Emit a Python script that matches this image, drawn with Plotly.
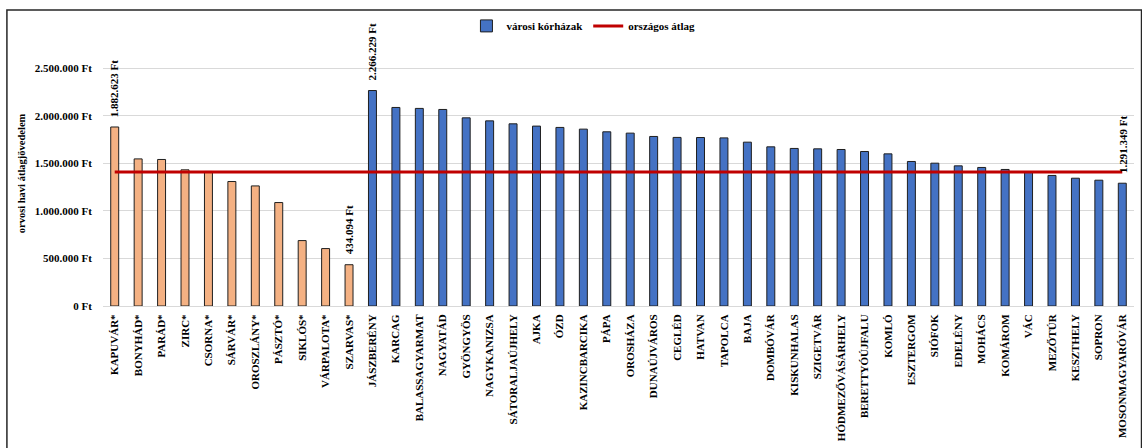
import plotly.graph_objects as go

# ---- data -------------------------------------------------------------
small_names = ["KAPUVÁR*", "BONYHÁD*", "PARÁD*", "ZIRC*", "CSORNA*", "SÁRVÁR*",
               "OROSZLÁNY*", "PÁSZTÓ*", "SIKLÓS*", "VÁRPALOTA*", "SZARVAS*"]
small_values = [1882623, 1547000, 1541000, 1432000, 1415000, 1309000,
                1263000, 1088000, 688000, 604000, 434094]

city_names = ["JÁSZBERÉNY", "KARCAG", "BALASSAGYARMAT", "NAGYATÁD", "GYÖNGYÖS",
              "NAGYKANIZSA", "SÁTORALJAÚJHELY", "AJKA", "ÓZD", "KAZINCBARCIKA",
              "PÁPA", "OROSHÁZA", "DUNAÚJVÁROS", "CEGLÉD", "HATVAN", "TAPOLCA",
              "BAJA", "DOMBÓVÁR", "KISKUNHALAS", "SZIGETVÁR", "HÓDMEZŐVÁSÁRHELY",
              "BERETTYÓÚJFALU", "KOMLÓ", "ESZTERGOM", "SIÓFOK", "EDELÉNY",
              "MOHÁCS", "KOMÁROM", "VÁC", "MEZŐTÚR", "KESZTHELY", "SOPRON",
              "MOSONMAGYARÓVÁR"]
city_values = [2266229, 2088000, 2078000, 2067000, 1979000, 1947000, 1916000,
               1892000, 1878000, 1860000, 1832000, 1818000, 1783000, 1773000,
               1772000, 1768000, 1723000, 1674000, 1657000, 1653000, 1646000,
               1625000, 1600000, 1520000, 1502000, 1474000, 1457000, 1436000,
               1407000, 1373000, 1344000, 1323000, 1291349]

national_avg = 1410000

labelled = ["KAPUVÁR*", "SZARVAS*", "JÁSZBERÉNY", "MOSONMAGYARÓVÁR"]

y_tickvals = [0, 500000, 1000000, 1500000, 2000000, 2500000]
y_ticktext = ["0 Ft", "500.000 Ft", "1.000.000 Ft", "1.500.000 Ft",
              "2.000.000 Ft", "2.500.000 Ft"]

legend_city = "városi kórházak"
legend_avg = "országos átlag"
y_title = "orvosi havi átlagjövedelem"

# ---- figure -----------------------------------------------------------
FONT = "Liberation Serif"
all_names = small_names + city_names
all_values = small_values + city_values

fig = go.Figure()
fig.add_trace(go.Bar(
    x=small_names, y=small_values, width=0.34, showlegend=False,
    marker=dict(color="#F4B183", line=dict(color="#1f1f1f", width=1)),
))
fig.add_trace(go.Bar(
    x=city_names, y=city_values, width=0.34, name=legend_city,
    marker=dict(color="#4472C4", line=dict(color="#1f1f1f", width=1)),
))
fig.add_trace(go.Scatter(
    x=all_names, y=[national_avg] * len(all_names), mode="lines",
    name=legend_avg, line=dict(color="#C00000", width=3),
))

def fmt(v):
    return f"{v:,}".replace(",", ".") + " Ft"

annotations = []
for n, v in zip(all_names, all_values):
    if n in labelled:
        annotations.append(dict(
            x=n, y=v, xref="x", yref="y", text=fmt(v), showarrow=False,
            textangle=-90, yanchor="bottom", xanchor="center", yshift=8,
            font=dict(family=FONT, size=11, color="#000000", weight="bold"),
        ))

fig.update_layout(
    width=1142, height=448,
    margin=dict(l=103, r=8, t=41, b=142),
    paper_bgcolor="white", plot_bgcolor="white",
    barmode="overlay",
    font=dict(family=FONT, size=11, color="#000000", weight="bold"),
    showlegend=True,
    legend=dict(orientation="h", x=0.466, xanchor="center", y=1.057,
                yanchor="middle", font=dict(family=FONT, size=11, weight="bold"),
                bgcolor="rgba(0,0,0,0)", itemwidth=30),
    annotations=annotations,
    shapes=[dict(type="rect", xref="paper", yref="paper",
                 x0=-0.0932, x1=1.0073, y0=-0.6, y1=1.117,
                 line=dict(color="#262626", width=1.5), layer="below")],
    xaxis=dict(
        type="category", categoryorder="array", categoryarray=all_names,
        tickangle=-90, ticks="", showgrid=False, showline=True,
        linecolor="#d9d9d9", linewidth=1,
        tickfont=dict(family=FONT, size=11, color="#000000", weight="bold"),
        ticklabelstandoff=3,
    ),
    yaxis=dict(
        range=[0, 2787000], tickvals=y_tickvals, ticktext=y_ticktext,
        showgrid=True, gridcolor="#d9d9d9", gridwidth=1, zeroline=False,
        ticks="", ticklabelstandoff=10,
        tickfont=dict(family=FONT, size=11, color="#000000", weight="bold"),
        title=dict(text=y_title, standoff=7,
                   font=dict(family=FONT, size=10.5, color="#000000", weight="bold")),
    ),
)

fig.write_html("out.html")
